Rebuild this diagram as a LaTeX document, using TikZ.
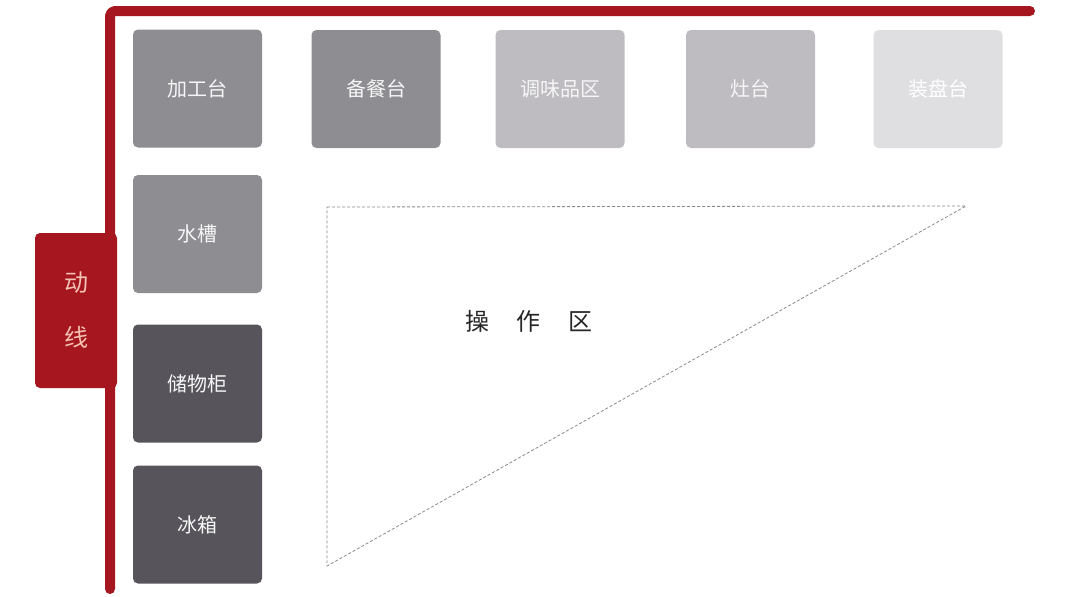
\documentclass[tikz,border=0pt]{standalone}
\usepackage{fontspec}
\newfontfamily\cjk{Noto Sans CJK SC}
\definecolor{lred}{HTML}{A5161F}
\definecolor{tagtext}{HTML}{F3C2B4}
\definecolor{gmid}{HTML}{8E8D92}
\definecolor{glight}{HTML}{BEBCC1}
\definecolor{gpale}{HTML}{DFDEE1}
\definecolor{gdark}{HTML}{57555B}
\definecolor{dashc}{HTML}{8A8A8A}
\begin{document}
\begin{tikzpicture}[x=1pt,y=-1pt,
  box/.style={rounded corners=5pt, minimum width=129pt, minimum height=118pt,
    inner sep=0pt, font=\cjk\fontsize{20}{24}\selectfont, text=white!93!gray},
  redline/.style={draw=lred, line width=10pt, line cap=round, line join=round, rounded corners=5pt},
  zone/.style={draw=dashc, dashed, dash pattern=on 3pt off 2pt, line width=0.8pt}]
\useasboundingbox (0,0) rectangle (1080,597);
\fill[white] (0,0) rectangle (1080,597);
% red tag
\node[fill=lred, rounded corners=5pt, minimum width=82pt, minimum height=155pt, inner sep=0pt,
  align=center, text=tagtext, font=\cjk\fontsize{24}{55}\selectfont] (tag) at (76,310.5) {动\\线};
% red line
\coordinate (lineEnd) at (1030,11);
\coordinate (corner) at (110,11);
\coordinate (lineBottom) at (110,589);
\draw[redline] (lineEnd) -- (corner) -- (lineBottom);
% boxes
\node[box, fill=gmid] (jiagong) at (197.5,88.5) {加工台};
\node[box, fill=gmid] (beican) at (376,89) {备餐台};
\node[box, fill=glight] (tiaowei) at (560,89) {调味品区};
\node[box, fill=glight] (zaotai) at (750.5,89) {灶台};
\node[box, fill=gpale, text=white] (zhuangpan) at (938,89) {装盘台};
\node[box, fill=gmid] (shuicao) at (197.5,234) {水槽};
\node[box, fill=gdark] (chuwu) at (197.5,383.5) {储物柜};
\node[box, fill=gdark] (bingxiang) at (197.5,524.5) {冰箱};
% operation zone
\coordinate (tA) at (327,207);
\coordinate (tB) at (966,206);
\coordinate (tC) at (327,566);
\draw[zone] (tA) -- (tB) -- (tC) -- cycle;
\node[font=\cjk\fontsize{24}{28}\selectfont, text=black!85] (zoneLabel) at (529,321)
  {操\hspace{28pt}作\hspace{28pt}区};
\end{tikzpicture}
\end{document}
